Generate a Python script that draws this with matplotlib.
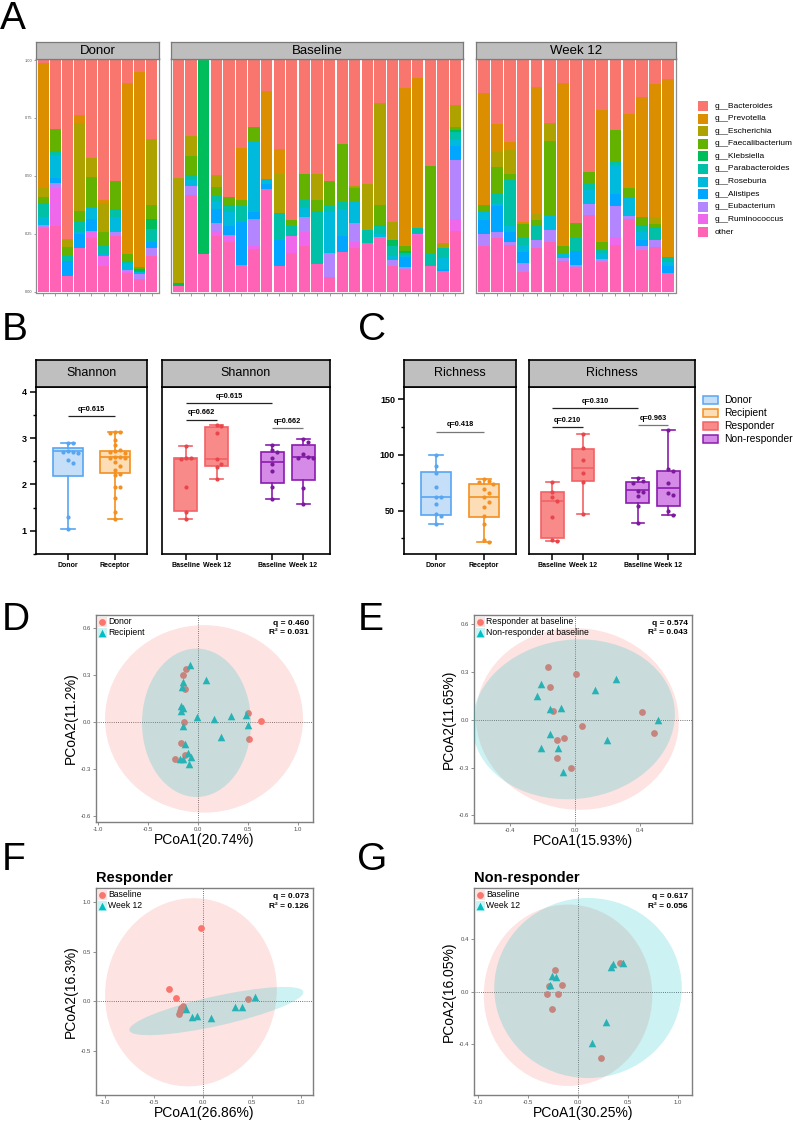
import matplotlib
matplotlib.use("Agg")
import matplotlib.pyplot as plt
import numpy as np
from matplotlib.patches import Ellipse, Rectangle

plt.rcParams['font.family'] = ['Liberation Sans', 'DejaVu Sans']
plt.rcParams['axes.unicode_minus'] = False

# ---------------- Panel A data (percent) ----------------
GROUPS = ['Donor', 'Baseline', 'Week 12']
GROUP_SIZES = [10, 23, 15]
GENERA = ['g__Bacteroides', 'g__Prevotella', 'g__Escherichia', 'g__Faecalibacterium',
          'g__Klebsiella', 'g__Parabacteroides', 'g__Roseburia', 'g__Alistipes',
          'g__Eubacterium', 'g__Ruminococcus', 'other']
GENUS_COLORS = ['#F8766D', '#DB8E00', '#AEA200', '#64B200', '#00BD5C', '#00C1A7',
                '#00BADE', '#00A6FF', '#B385FF', '#EF67EB', '#FF63B6']

BACTEROIDES = [1.5, 29.9, 77.2, 23.8, 42.2, 60.5, 52.2, 9.9, 5.1, 34.1,
               50.8, 32.6, 0, 49.8, 59.2, 37.8, 28.9, 13.4, 38.3, 69.0, 49.3, 49.0, 52.4, 36.1, 54.5, 53.7, 18.4, 70.0, 11.9, 7.9, 45.8, 79.1, 19.4,
               14.3, 27.5, 35.4, 69.9, 11.8, 27.0, 9.8, 70.3, 48.4, 21.6, 30.1, 23.1, 15.9, 10.5, 8.0]
PREVOTELLA = [53.7, 0, 0, 3.3, 0, 1.2, 0, 74.0, 84.1, 0,
              0, 0, 0, 0, 0, 22.8, 0, 38.1, 11.1, 0, 0, 0, 0, 0, 0, 0, 0, 0, 68.5, 64.7, 0, 0, 0,
              48.1, 12.0, 3.3, 0.7, 54.8, 0, 70.6, 0, 0, 57.0, 0, 32.0, 51.9, 57.4, 77.0]
ESCHERICHIA = [4.0, 0, 3.6, 38.1, 8.5, 12.6, 0, 0, 0, 28.3,
               45.6, 8.9, 0, 5.1, 0, 0, 0, 0, 16.7, 0, 0, 11.3, 0, 0, 0.7, 19.6, 44.3, 7.6, 0, 0, 0, 2.2, 9.4,
               0, 6.8, 10.4, 0, 2.6, 8.1, 0, 0, 0, 0, 0, 0, 0, 2.9, 0]
FAECALIBACTERIUM = [2.6, 9.2, 3.6, 4.8, 12.7, 5.8, 12.0, 2.9, 1.0, 6.1,
                    0, 8.2, 0, 4.0, 3.2, 2.5, 6.2, 0, 0, 2.5, 11.3, 4.9, 10.7, 25.3, 6.1, 0, 8.7, 0, 1.9, 0, 37.8, 0, 1.4,
                    3.2, 11.5, 2.9, 6.1, 2.6, 32.0, 3.3, 6.6, 5.3, 3.6, 14.0, 4.3, 3.3, 1.4, 0]
KLEBSIELLA = [0, 0, 0, 0, 0, 0, 0, 0, 1.4, 4.3,
              1.0, 0, 83.7, 0, 0, 0, 0, 0, 0, 0, 0, 0, 0, 0, 0, 0, 0, 2.5, 1.0, 0, 0, 0, 1.0,
              0, 0, 0, 0, 0, 0, 0, 0, 0, 0, 0, 0, 0, 0, 0]
PARABACTEROIDES = [6.1, 1.9, 2.2, 4.3, 0, 3.6, 3.6, 1.0, 0, 5.8,
                   0, 2.2, 0, 2.0, 3.3, 6.9, 0, 0, 11.4, 4.3, 3.2, 22.8, 2.6, 2.9, 0, 5.8, 3.6, 4.3, 0.9, 2.5, 5.1, 4.3, 2.9,
                   0, 4.0, 19.5, 3.3, 6.1, 0, 0, 5.6, 2.3, 1.0, 1.4, 0, 3.2, 5.3, 2.0]
ROSEBURIA = [3.3, 10.1, 0, 1.0, 5.1, 0.7, 6.5, 2.9, 0.7, 0,
             0, 2.6, 0, 3.3, 5.8, 0, 30.3, 2.2, 0, 0, 4.0, 0, 17.6, 11.5, 9.1, 0, 1.2, 1.9, 1.0, 0, 0, 4.6, 3.0,
             3.6, 1.4, 2.6, 2.9, 0, 6.2, 1.9, 0, 6.1, 2.9, 12.3, 7.9, 3.6, 0, 2.0]
ALISTIPES = [0, 2.2, 6.5, 5.8, 5.1, 0, 0, 0, 0, 2.5,
             0, 0, 0, 6.2, 3.9, 18.5, 3.2, 1.9, 11.5, 0, 0, 0, 0, 6.9, 0, 0, 0, 0, 4.3, 0, 0, 0.7, 6.1,
             6.1, 11.1, 4.3, 4.8, 0, 0, 0, 5.8, 0, 0, 5.3, 0, 2.2, 0, 3.0]
EUBACTERIUM = [0.7, 1.9, 0, 0, 0.7, 0, 1.5, 0.7, 2.2, 3.3,
               0, 3.9, 0, 3.5, 0, 0, 11.5, 0, 0, 0, 6.5, 0, 10.5, 0, 8.2, 0, 0, 2.7, 0.7, 0, 0, 0, 25.3,
               4.8, 2.6, 1.4, 3.9, 3.2, 5.3, 1.0, 1.2, 4.6, 0.9, 13.4, 1.2, 1.9, 3.3, 0]
RUMINOCOCCUS = [0.7, 16.5, 0, 0, 2.5, 4.3, 0, 0.7, 0, 0,
                0, 0, 0, 1.9, 3.0, 0, 1.4, 0, 0, 7.5, 6.1, 0, 0, 0, 2.5, 0, 0.7, 0, 0, 0.4, 0, 0, 5.5,
                0, 0, 0, 0, 0, 0, 0, 0, 0, 0, 3.2, 0, 0, 0, 0]
OTHER = [27.4, 28.3, 6.9, 18.9, 23.2, 11.3, 24.2, 7.9, 5.5, 15.6,
         2.6, 41.6, 16.3, 24.2, 21.6, 11.5, 18.5, 44.4, 11.0, 16.7, 19.6, 12.0, 6.2, 17.3, 18.9, 20.9, 23.1, 11.0, 9.8, 24.5, 11.3, 9.1, 26.0,
         19.9, 23.1, 20.2, 8.4, 18.9, 21.4, 13.4, 10.5, 33.3, 13.0, 20.3, 31.5, 18.0, 19.2, 8.0]
GENUS_VALUES = [BACTEROIDES, PREVOTELLA, ESCHERICHIA, FAECALIBACTERIUM, KLEBSIELLA,
                PARABACTEROIDES, ROSEBURIA, ALISTIPES, EUBACTERIUM, RUMINOCOCCUS, OTHER]

# ---------------- Panel B / C data ----------------
# box stats: [whisker low, Q1, median, Q3, whisker high]
SH_DONOR_PTS = [2.90, 2.89, 2.72, 2.70, 2.69, 2.68, 2.52, 2.46, 1.29, 1.04]
SH_DONOR_BOX = [1.04, 2.19, 2.72, 2.79, 2.90]
SH_RECIP_PTS = [3.14, 3.12, 3.10, 2.95, 2.84, 2.75, 2.72, 2.70, 2.68, 2.60, 2.59, 2.58,
                2.57, 2.48, 2.40, 2.32, 2.22, 2.20, 1.95, 1.94, 1.70, 1.41, 1.26]
SH_RECIP_BOX = [1.26, 2.24, 2.59, 2.72, 3.14]
SH_RESP_BL_PTS = [2.82, 2.57, 2.57, 2.54, 1.95, 1.40, 1.25]
SH_RESP_BL_BOX = [1.25, 1.43, 2.54, 2.56, 2.82]
SH_RESP_W12_PTS = [3.29, 3.27, 3.10, 2.54, 2.44, 2.38, 2.11]
SH_RESP_W12_BOX = [2.11, 2.39, 2.54, 3.24, 3.29]
SH_NONR_BL_PTS = [2.86, 2.74, 2.69, 2.57, 2.43, 2.29, 1.94, 1.69]
SH_NONR_BL_BOX = [1.69, 2.04, 2.49, 2.70, 2.86]
SH_NONR_W12_PTS = [2.97, 2.92, 2.66, 2.59, 2.58, 2.57, 1.92, 1.57]
SH_NONR_W12_BOX = [1.57, 2.09, 2.59, 2.84, 2.97]

RI_DONOR_PTS = [100, 90, 84, 71, 62, 62, 56, 47, 45, 38]
RI_DONOR_BOX = [38, 46.4, 62.6, 84.6, 100]
RI_RECIP_PTS = [78, 77, 76, 74, 69, 66, 62, 58, 53, 45, 38, 24, 22]
RI_RECIP_BOX = [22, 44, 62.6, 73.5, 78]
RI_RESP_BL_PTS = [76, 67, 62, 59, 44, 24, 23]
RI_RESP_BL_BOX = [23, 25.3, 59, 66.6, 76]
RI_RESP_W12_PTS = [119, 106, 95, 84, 76, 47]
RI_RESP_W12_BOX = [47, 76.5, 88.6, 105.7, 119]
RI_NONR_BL_PTS = [79, 77, 75, 68, 67, 63, 54, 39]
RI_NONR_BL_BOX = [39, 56.6, 68.7, 75.6, 79]
RI_NONR_W12_PTS = [122, 87, 86, 75, 66, 64, 50, 46]
RI_NONR_W12_BOX = [46, 54, 70.5, 86, 122]

SH_Q = ['q=0.615', 'q=0.615', 'q=0.662', 'q=0.662']
RI_Q = ['q=0.418', 'q=0.310', 'q=0.210', 'q=0.963']

# ---------------- Panels D-G data ----------------
D_DONOR_X = [-0.123, -0.147, -0.127, -0.14, -0.17, -0.127, -0.23, 0.50, 0.63, 0.51]
D_DONOR_Y = [0.34, 0.30, 0.214, 0.0, -0.137, -0.209, -0.234, 0.055, 0.004, -0.109]
D_RECIP_X = [-0.08, -0.153, -0.163, 0.08, -0.173, -0.153, -0.173, -0.013, 0.163, 0.327,
             0.477, 0.503, -0.147, 0.227, -0.13, -0.097, -0.07, -0.18, -0.153, -0.087]
D_RECIP_Y = [0.364, 0.257, 0.227, 0.27, 0.104, 0.089, 0.068, 0.032, 0.021, 0.04,
             0.045, -0.022, -0.028, -0.096, -0.14, -0.198, -0.224, -0.236, -0.236, -0.266]
E_RESP_X = [-0.164, -0.153, 0.004, -0.133, 0.044, -0.109, -0.067, -0.109, -0.022, 0.411, 0.485]
E_RESP_Y = [0.331, 0.206, 0.291, 0.057, -0.038, -0.127, -0.116, -0.241, -0.304, 0.051, -0.082]
E_NONR_X = [-0.211, -0.231, 0.251, 0.125, -0.153, -0.087, -0.153, -0.207, -0.102, 0.196, 0.511, -0.075]
E_NONR_Y = [0.228, 0.147, 0.255, 0.185, 0.065, 0.076, -0.087, -0.18, -0.18, -0.129, -0.004, -0.327]
F_BL_X = [-0.017, -0.344, -0.276, -0.204, -0.221, -0.232, -0.238, 0.459]
F_BL_Y = [0.737, 0.122, 0.034, -0.047, -0.074, -0.101, -0.125, 0.02]
F_W12_X = [-0.17, -0.106, -0.055, 0.085, 0.33, 0.404, 0.534]
F_W12_Y = [-0.081, -0.159, -0.149, -0.175, -0.058, -0.058, 0.044]
G_BL_X = [-0.227, -0.294, -0.311, -0.157, -0.201, -0.257, 0.426, 0.228]
G_BL_Y = [0.168, 0.04, -0.018, 0.053, -0.018, -0.132, 0.219, -0.505]
G_W12_X = [-0.261, -0.217, -0.284, 0.352, 0.329, 0.452, 0.278, 0.145]
G_W12_Y = [0.122, 0.109, 0.053, 0.213, 0.185, 0.219, -0.234, -0.391]

# ellipses: (cx, cy, width, height, angle)
D_ELL = [(0.06, 0.02, 1.98, 1.20, 0), (-0.015, -0.005, 1.09, 0.95, 0)]
E_ELL = [(0.015, 0.005, 1.25, 1.14, -8), (-0.008, 0.003, 1.25, 1.0, 8)]
F_ELL = [(-0.12, 0.09, 1.91, 1.75, 80), (0.14, -0.10, 1.82, 0.30, 12.4)]
G_ELL = [(-0.10, -0.027, 1.69, 1.38, 0), (0.10, 0.028, 1.88, 1.37, 0)]

# ====================================================================
W, H = 793, 1121
fig = plt.figure(figsize=(W / 100, H / 100), dpi=100)


def pax(x0, y0, x1, y1, **kw):
    return fig.add_axes([x0 / W, 1 - y1 / H, (x1 - x0) / W, (y1 - y0) / H], **kw)


# ---------------- Panel A ----------------
A_X = [(36, 159), (171, 463), (476, 676)]
start = 0
for gi, (gname, n) in enumerate(zip(GROUPS, GROUP_SIZES)):
    x0, x1 = A_X[gi]
    ax = pax(x0, 58.5, x1, 292.5)
    pos = np.arange(1, n + 1)
    bottom = np.zeros(n)
    for vals, col in zip(GENUS_VALUES[::-1], GENUS_COLORS[::-1]):
        v = np.array(vals[start:start + n]) / 100.0
        ax.bar(pos, v, bottom=bottom, width=0.9, color=col, linewidth=0)
        bottom += v
    start += n
    ax.set_xlim(0.4, n + 0.6)
    ax.set_ylim(-0.0035, 1.0065)
    for s in ax.spines.values():
        s.set_color('#8C8C8C')
        s.set_linewidth(0.9)
    ax.set_xticks(pos)
    ax.set_xticklabels([])
    ax.tick_params(axis='x', length=2, width=0.4, color='#555555')
    if gi == 0:
        ax.set_yticks([0, 0.25, 0.5, 0.75, 1.0])
        ax.set_yticklabels(['0.00', '0.25', '0.50', '0.75', '1.00'])
        ax.tick_params(axis='y', length=1.5, width=0.4, labelsize=2.8,
                       labelcolor='#4D4D4D', color='#555555', pad=1)
    else:
        ax.set_yticks([])
    sax = pax(x0, 42, x1, 58.5)
    sax.set_facecolor('#BEBEBE')
    sax.set_xticks([])
    sax.set_yticks([])
    for s in sax.spines.values():
        s.set_color('#7A7A7A')
        s.set_linewidth(0.9)
    sax.text(0.5, 0.45, gname, ha='center', va='center', fontsize=9.5, transform=sax.transAxes)


# ---------------- Panels B / C ----------------
def swarm_offsets(vals, ppx, ppy, d=4.8):
    vals = np.asarray(vals, dtype=float)
    order = np.argsort(-vals)
    placed = []
    offs = np.zeros(len(vals))
    for i in order:
        y = vals[i] * ppy
        x = 0.0
        for k in [0, 1, -1, 2, -2, 3, -3, 4, -4, 5, -5]:
            x = k * d
            if all((x - px) ** 2 + (y - py) ** 2 >= d * d * 0.95 for px, py in placed):
                break
        placed.append((x, y))
        offs[i] = x / ppx
    return offs


C_DONOR = ('#58A6F2', '#C6DFF8', '#58A6F2')
C_RECIP = ('#F39020', '#FCDDB6', '#F39020')
C_RESP = ('#F26266', '#F98A8A', '#E8464B')
C_NONR = ('#8B1CAE', '#D48AE6', '#7B1A9A')


def box_panel(x0, x1, ylim, yticks, minor, strip_label, groups, brackets, left_axis,
              width, capw, xlim, pxh=167.0):
    ax = pax(x0, 387, x1, 554)
    ax.set_xlim(*xlim)
    ax.set_ylim(*ylim)
    ppx = (x1 - x0) / (xlim[1] - xlim[0])
    ppy = pxh / (ylim[1] - ylim[0])
    for pos, pts, bx, cols in groups:
        edge, fill, ptc = cols
        stats = [dict(whislo=bx[0], q1=bx[1], med=bx[2], q3=bx[3], whishi=bx[4], fliers=[])]
        ax.bxp(stats, positions=[pos], widths=width, patch_artist=True, showfliers=False,
               capwidths=[capw],
               boxprops=dict(facecolor=fill, edgecolor=edge, linewidth=1.2),
               medianprops=dict(color=edge, linewidth=1.2),
               whiskerprops=dict(color=edge, linewidth=1.2),
               capprops=dict(color=edge, linewidth=1.2))
        offs = swarm_offsets(pts, ppx, ppy)
        ax.scatter(pos + offs, pts, s=9, color=ptc, linewidth=0, zorder=4)
    for xa, xb, yl, txt, col in brackets:
        ax.plot([xa, xb], [yl, yl], color=col, lw=0.9, solid_capstyle='butt')
        ax.annotate(txt, xy=((xa + xb) / 2, yl), xytext=(0, 2.5), textcoords='offset points',
                    ha='center', va='bottom', fontsize=5.3, fontweight='bold')
    ax.set_xticks([g[0] for g in groups])
    for s in ax.spines.values():
        s.set_color('black')
        s.set_linewidth(1.2)
    ax.tick_params(axis='x', length=4, width=1.1, pad=2, labelsize=5)
    if left_axis:
        ax.set_yticks(yticks)
        ax.set_yticks(minor, minor=True)
        ax.tick_params(axis='y', which='major', length=4.5, width=1.1, labelsize=6.5, pad=2)
        ax.tick_params(axis='y', which='minor', length=2.5, width=1.0)
        for lab in ax.get_yticklabels():
            lab.set_fontweight('bold')
    else:
        ax.set_yticks([])
        ax.set_yticks([], minor=True)
    sax = pax(x0, 360, x1, 387)
    sax.set_facecolor('#BFBFBF')
    sax.set_xticks([])
    sax.set_yticks([])
    for s in sax.spines.values():
        s.set_color('black')
        s.set_linewidth(1.2)
    sax.text(0.5, 0.5, strip_label, ha='center', va='center', fontsize=9, transform=sax.transAxes)
    return ax


SH_LIM = (0.5, 4.1)
RI_LIM = (11, 161)
LX = (0.32, 2.68)
RX = (0.23, 5.67)

axb1 = box_panel(36, 147, SH_LIM, [1, 2, 3, 4], [0.5, 1.5, 2.5, 3.5], 'Shannon',
                 [(1, SH_DONOR_PTS, SH_DONOR_BOX, C_DONOR), (2, SH_RECIP_PTS, SH_RECIP_BOX, C_RECIP)],
                 [(1, 2, 3.47, SH_Q[0], '#222222')], True, 0.64, 0.3, LX)
axb1.set_xticklabels(['Donor', 'Receptor'])
axb2 = box_panel(162, 330, SH_LIM, [], [], 'Shannon',
                 [(1, SH_RESP_BL_PTS, SH_RESP_BL_BOX, C_RESP), (2, SH_RESP_W12_PTS, SH_RESP_W12_BOX, C_RESP),
                  (3.8, SH_NONR_BL_PTS, SH_NONR_BL_BOX, C_NONR), (4.8, SH_NONR_W12_PTS, SH_NONR_W12_BOX, C_NONR)],
                 [(1, 3.8, 3.75, SH_Q[1], '#222222'), (1, 2, 3.39, SH_Q[2], '#222222'),
                  (3.8, 4.8, 3.21, SH_Q[3], '#777777')], False, 0.75, 0.42, RX)
axb2.set_xticklabels(['Baseline', 'Week 12', 'Baseline', 'Week 12'])

axc1 = box_panel(404, 516, RI_LIM, [50, 100, 150], [25, 75, 125], 'Richness',
                 [(1, RI_DONOR_PTS, RI_DONOR_BOX, C_DONOR), (2, RI_RECIP_PTS, RI_RECIP_BOX, C_RECIP)],
                 [(1, 2, 120.8, RI_Q[0], '#777777')], True, 0.64, 0.3, LX, pxh=166.0)
axc1.set_xticklabels(['Donor', 'Receptor'])
axc2 = box_panel(529, 695, RI_LIM, [], [], 'Richness',
                 [(1, RI_RESP_BL_PTS, RI_RESP_BL_BOX, C_RESP), (2, RI_RESP_W12_PTS, RI_RESP_W12_BOX, C_RESP),
                  (3.8, RI_NONR_BL_PTS, RI_NONR_BL_BOX, C_NONR), (4.8, RI_NONR_W12_PTS, RI_NONR_W12_BOX, C_NONR)],
                 [(1, 3.8, 141.8, RI_Q[1], '#222222'), (1, 2, 124.7, RI_Q[2], '#222222'),
                  (3.8, 4.8, 126.8, RI_Q[3], '#777777')], False, 0.75, 0.42, RX, pxh=166.0)
axc2.set_xticklabels(['Baseline', 'Week 12', 'Baseline', 'Week 12'])
for a in (axb1, axb2, axc1, axc2):
    for lab in a.get_xticklabels():
        lab.set_fontweight('bold')

# ---------------- Panels D-G ----------------
RED = '#F8766D'
TEAL = '#00BFC4'


def pcoa(box, xlim, ylim, xticks, yticks, xlabel, ylabel, g1, g2, ells, labels, q, r2, title=None):
    x0, y0, x1, y1 = box
    aw, ah = x1 - x0, y1 - y0
    ax = pax(x0, y0, x1, y1)
    ax.set_xlim(*xlim)
    ax.set_ylim(*ylim)
    ax.axhline(0, color='#444444', lw=0.6, ls=(0, (1, 1.6)), zorder=1)
    ax.axvline(0, color='#444444', lw=0.6, ls=(0, (1, 1.6)), zorder=1)
    ax.scatter(g1[0], g1[1], s=24, marker='o', color=RED, linewidth=0, zorder=2)
    ax.scatter(g2[0], g2[1], s=30, marker='^', color=TEAL, linewidth=0, zorder=2)
    for (cx, cy, w, h, ang), col in zip(ells, (RED, TEAL)):
        ax.add_patch(Ellipse((cx, cy), w, h, angle=ang, facecolor=col, alpha=0.2,
                             linewidth=0, zorder=3))
    ax.set_xticks(xticks)
    ax.set_xticklabels(['%.1f' % t for t in xticks])
    ax.set_yticks(yticks)
    ax.set_yticklabels(['%.1f' % t for t in yticks])
    ax.tick_params(length=2, width=0.6, color='#7F7F7F', labelsize=4.3,
                   labelcolor='#4D4D4D', pad=1.5)
    for s in ax.spines.values():
        s.set_color('#7F7F7F')
        s.set_linewidth(1.0)
    ax.set_xlabel(xlabel, fontsize=10, labelpad=1)
    ax.set_ylabel(ylabel, fontsize=10, labelpad=2)
    tr = ax.transAxes
    ax.text(1 - 4 / aw, 1 - 10 / ah, q, ha='right', va='baseline', fontsize=6,
            fontweight='bold', transform=tr)
    ax.text(1 - 4 / aw, 1 - 19.5 / ah, r2, ha='right', va='baseline', fontsize=6,
            fontweight='bold', transform=tr)
    for i, (lab, col, mk, ms) in enumerate(zip(labels, (RED, TEAL), ('o', '^'), (24, 30))):
        yc = 6.5 + 11 * i
        ax.add_patch(Rectangle((1.5 / aw, 1 - (yc + 5) / ah), 9.5 / aw, 10 / ah, transform=tr,
                               facecolor=col, alpha=0.2, linewidth=0, clip_on=False, zorder=5))
        ax.scatter([6.2 / aw], [1 - yc / ah], s=ms, marker=mk, color=col, linewidth=0,
                   transform=tr, clip_on=False, zorder=6)
        ax.text(12.5 / aw, 1 - yc / ah, lab, ha='left', va='center', fontsize=6.2,
                transform=tr, zorder=6)
    if title:
        ax.set_title(title, loc='left', fontweight='bold', fontsize=10.5, pad=4.3)
    return ax


pcoa((96, 615, 313, 822), (-1.02, 1.15), (-0.64, 0.685), [-1, -0.5, 0, 0.5, 1.0],
     [-0.6, -0.3, 0, 0.3, 0.6], 'PCoA1(20.74%)', 'PCoA2(11.2%)',
     (D_DONOR_X, D_DONOR_Y), (D_RECIP_X, D_RECIP_Y), D_ELL, ['Donor', 'Recipient'],
     'q = 0.460', 'R² = 0.031')
pcoa((474, 615, 692, 823), (-0.62, 0.72), (-0.649, 0.659), [-0.4, 0, 0.4],
     [-0.6, -0.3, 0, 0.3, 0.6], 'PCoA1(15.93%)', 'PCoA2(11.65%)',
     (E_RESP_X, E_RESP_Y), (E_NONR_X, E_NONR_Y), E_ELL,
     ['Responder at baseline', 'Non-responder at baseline'], 'q = 0.574', 'R² = 0.043')
pcoa((96, 888, 313, 1095), (-1.09, 1.127), (-0.95, 1.146), [-1, -0.5, 0, 0.5, 1.0],
     [-0.5, 0, 0.5, 1.0], 'PCoA1(26.86%)', 'PCoA2(16.3%)',
     (F_BL_X, F_BL_Y), (F_W12_X, F_W12_Y), F_ELL, ['Baseline', 'Week 12'],
     'q = 0.073', 'R² = 0.126', title='Responder')
pcoa((474, 888, 692, 1095), (-1.043, 1.143), (-0.786, 0.789), [-1, -0.5, 0, 0.5, 1.0],
     [-0.4, 0, 0.4], 'PCoA1(30.25%)', 'PCoA2(16.05%)',
     (G_BL_X, G_BL_Y), (G_W12_X, G_W12_Y), G_ELL, ['Baseline', 'Week 12'],
     'q = 0.617', 'R² = 0.056', title='Non-responder')

# ---------------- overlay: letters and legends ----------------
ov = fig.add_axes([0, 0, 1, 1])
ov.set_xlim(0, W)
ov.set_ylim(H, 0)
ov.axis('off')

for letter, x, y in [('A', 0, 29), ('B', 2, 340), ('C', 358, 340), ('D', 2, 630),
                     ('E', 358, 630), ('F', 2, 870), ('G', 357, 870)]:
    ov.text(x, y, letter, fontsize=28, ha='left', va='baseline')

for i, (g, c) in enumerate(zip(GENERA, GENUS_COLORS)):
    yc = 106 + 12.6 * i
    ov.add_patch(Rectangle((698, yc - 5), 10, 10, facecolor=c, linewidth=0))
    ov.text(715, yc, g, fontsize=6, ha='left', va='center')

for i, (lab, cols) in enumerate(zip(['Donor', 'Recipient', 'Responder', 'Non-responder'],
                                    [C_DONOR, C_RECIP, C_RESP, C_NONR])):
    yc = 400 + 13 * i
    ov.add_patch(Rectangle((703, yc - 3.7), 15, 7.4, facecolor=cols[1], edgecolor=cols[0],
                           linewidth=1.1))
    ov.text(724, yc, lab, fontsize=7.4, ha='left', va='center')

fig.savefig('out.png', dpi=100)
